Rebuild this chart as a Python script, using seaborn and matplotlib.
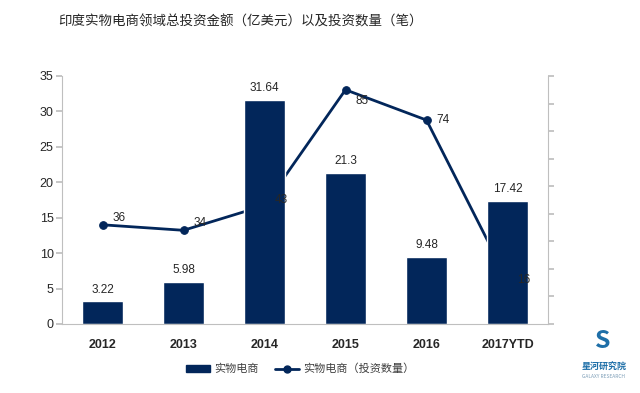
import matplotlib
matplotlib.use("Agg")
import matplotlib.pyplot as plt
import seaborn as sns
import numpy as np
import pandas as pd
from matplotlib.lines import Line2D
from matplotlib.patches import Patch

years = ["2012", "2013", "2014", "2015", "2016", "2017YTD"]
amounts = [3.22, 5.98, 31.64, 21.3, 9.48, 17.42]
deals = [36, 34, 43, 85, 74, 16]
title = "印度实物电商领域总投资金额（亿美元）以及投资数量（笔）"
bar_name = "实物电商"
line_name = "实物电商（投资数量）"

sns.set_theme(style="white")
plt.rcParams['font.family'] = ['Noto Sans CJK SC', 'DejaVu Sans']

navy = "#02265a"
spine_c = "#bfbfbf"
txt = "#262626"
latin = ['Liberation Sans', 'DejaVu Sans']

df = pd.DataFrame({"year": years, "amount": amounts, "deals": deals})

fig = plt.figure(figsize=(6.4, 3.93), dpi=100)
ax = fig.add_axes([62/640, 1-324/393, 486/640, 248/393])
sns.barplot(data=df, x="year", y="amount", color=navy, width=0.5, ax=ax,
            saturation=1)
ax.set_xlim(-0.5, 5.5)
ax.set_ylim(0, 35)
ax.set_yticks(range(0, 36, 5))
ax.set_xlabel("")
ax.set_ylabel("")
for s in ["top", "right"]:
    ax.spines[s].set_visible(False)
for s in ["left", "bottom"]:
    ax.spines[s].set_color(spine_c)
    ax.spines[s].set_linewidth(0.8)
ax.tick_params(axis="y", left=True, length=4, color=spine_c, labelsize=9, labelcolor=txt, pad=2)
ax.tick_params(axis="x", bottom=False, labelsize=9, labelcolor=txt, pad=5)
for lab in ax.get_xticklabels():
    lab.set_fontweight("bold")
    lab.set_family(latin)
for lab in ax.get_yticklabels():
    lab.set_family(latin)

for i, v in enumerate(amounts):
    ax.text(i, v + 0.8, f"{v:g}", ha="center", va="bottom", fontsize=8.5,
            color=txt, family=latin)

ax2 = ax.twinx()
xpos = np.arange(len(years))
sns.lineplot(x=xpos, y=deals, ax=ax2, color=navy, linewidth=2,
             marker="o", markersize=5.5, markeredgecolor=navy)
ax2.set_ylim(0, 90)
ax2.set_yticks(range(0, 91, 10))
ax2.set_yticklabels([])
ax2.set_xlim(-0.5, 5.5)
for s in ["top", "left", "bottom"]:
    ax2.spines[s].set_visible(False)
ax2.spines["right"].set_color(spine_c)
ax2.spines["right"].set_linewidth(0.8)
ax2.tick_params(axis="y", right=True, length=4, color=spine_c)

# bars in front of the line
ax.set_zorder(ax2.get_zorder() + 1)
ax.patch.set_visible(False)

label_dy = [5, 5, 4, -8, 0, 0]
for i, v in enumerate(deals):
    ax.annotate(f"{v}", xy=(i, v), xycoords=ax2.transData,
                xytext=(7, label_dy[i]), textcoords="offset points",
                ha="left", va="center", fontsize=8.5, color=txt, zorder=10,
                family=latin)

fig.text(58/640, 1-22/393, title, ha="left", va="center", fontsize=9.7, color=txt)

handles = [Patch(facecolor=navy, edgecolor=navy),
           Line2D([0], [0], color=navy, lw=2, marker="o", markersize=5)]
fig.legend(handles, [bar_name, line_name], loc="center", bbox_to_anchor=(300/640, 1-369/393),
           ncol=2, frameon=False, fontsize=8, handlelength=2.2, handleheight=0.6,
           columnspacing=1.5, handletextpad=0.3, labelcolor="#404040")

fig.text(604/640, 1-367/393, "星河研究院", ha="center", va="center", fontsize=6.5,
         color="#1e6fa8", fontweight="bold")
fig.text(604/640, 1-377/393, "GALAXY RESEARCH", ha="center", va="center", fontsize=3.5,
         color="#7f9fb8")
fig.text(603/640, 1-341/393, "S", ha="center", va="center", fontsize=18,
         color="#1e6fa8", fontweight="bold", style="italic")

fig.savefig("out.png", dpi=100)
